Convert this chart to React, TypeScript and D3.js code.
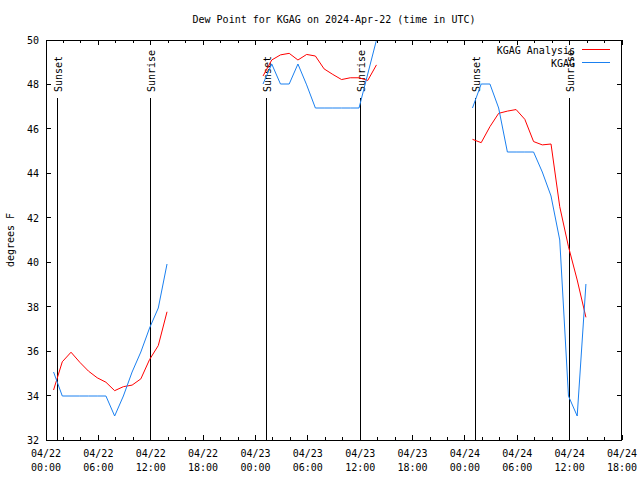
import React from "react";
import * as d3 from "d3";

const title = "Dew Point for KGAG on 2024-Apr-22 (time in UTC)";
const yLabel = "degrees F";
const xDomain = ["2024-04-22T00:00Z", "2024-04-24T18:00Z"];
const yDomain = [32, 50];
const yTicks = [32, 34, 36, 38, 40, 42, 44, 46, 48, 50];

const sunsetTimes = ["2024-04-22T01:17Z", "2024-04-23T01:12Z", "2024-04-24T01:10Z"];
const sunriseTimes = ["2024-04-22T11:57Z", "2024-04-23T11:56Z", "2024-04-24T11:54Z"];

// three observation windows (hourly)
const times1 = [
  "2024-04-22T00:52Z", "2024-04-22T01:52Z", "2024-04-22T02:52Z", "2024-04-22T03:52Z",
  "2024-04-22T04:52Z", "2024-04-22T05:52Z", "2024-04-22T06:52Z", "2024-04-22T07:52Z",
  "2024-04-22T08:52Z", "2024-04-22T09:52Z", "2024-04-22T10:52Z", "2024-04-22T11:52Z",
  "2024-04-22T12:52Z", "2024-04-22T13:52Z",
];
const times2 = [
  "2024-04-23T00:52Z", "2024-04-23T01:52Z", "2024-04-23T02:52Z", "2024-04-23T03:52Z",
  "2024-04-23T04:52Z", "2024-04-23T05:52Z", "2024-04-23T06:52Z", "2024-04-23T07:52Z",
  "2024-04-23T08:52Z", "2024-04-23T09:52Z", "2024-04-23T10:52Z", "2024-04-23T11:52Z",
  "2024-04-23T12:52Z", "2024-04-23T13:52Z",
];
const times3 = [
  "2024-04-24T00:52Z", "2024-04-24T01:52Z", "2024-04-24T02:52Z", "2024-04-24T03:52Z",
  "2024-04-24T04:52Z", "2024-04-24T05:52Z", "2024-04-24T06:52Z", "2024-04-24T07:52Z",
  "2024-04-24T08:52Z", "2024-04-24T09:52Z", "2024-04-24T10:52Z", "2024-04-24T11:52Z",
  "2024-04-24T12:52Z", "2024-04-24T13:52Z",
];

const analysis1 = [34.25, 35.52, 35.95, 35.5, 35.1, 34.8, 34.6, 34.22, 34.4, 34.47, 34.75, 35.62, 36.25, 37.77];
const analysis2 = [48.38, 49.1, 49.33, 49.4, 49.1, 49.35, 49.28, 48.7, 48.45, 48.22, 48.3, 48.3, 48.18, 48.88];
const analysis3 = [45.53, 45.38, 46.1, 46.7, 46.8, 46.87, 46.43, 45.43, 45.28, 45.32, 42.5, 40.7, 39.2, 37.52];

const obs1 = [35.06, 33.98, 33.98, 33.98, 33.98, 33.98, 33.98, 33.08, 33.98, 35.06, 35.96, 37.04, 37.94, 39.92];
const obs2 = [48.02, 48.92, 48.02, 48.02, 48.92, 47.98, 46.94, 46.94, 46.94, 46.94, 46.94, 46.94, 48.47, 50.0];
const obs3 = [46.94, 48.02, 48.02, 46.94, 44.96, 44.96, 44.96, 44.96, 44.06, 42.98, 41.0, 33.98, 33.08, 39.02];

const seriesNames = ["KGAG Analysis", "KGAG"];
const seriesColors = ["#ff0000", "#1a80f0"];

const FONT = "'DejaVu Sans Mono', monospace";

export default function App() {
  const left = 46, right = 622, top = 40, bottom = 440;
  const x = d3.scaleUtc().domain(xDomain.map((d) => new Date(d))).range([left, right]);
  const y = d3.scaleLinear().domain(yDomain).range([bottom, top]);

  const majorTicks = d3.utcHour.every(6)!.range(new Date(xDomain[0]), new Date(new Date(xDomain[1]).getTime() + 1));
  const minorTicks = d3.utcHour.every(2)!.range(new Date(xDomain[0]), new Date(new Date(xDomain[1]).getTime() + 1));
  const fmtDate = d3.utcFormat("%m/%d");
  const fmtTime = d3.utcFormat("%H:%M");

  const line = d3
    .line<[string, number]>()
    .x((d) => x(new Date(d[0])))
    .y((d) => y(d[1]));

  const analysisSegs = [
    d3.zip(times1, analysis1),
    d3.zip(times2, analysis2),
    d3.zip(times3, analysis3),
  ] as [string, number][][];
  const obsSegs = [d3.zip(times1, obs1), d3.zip(times2, obs2), d3.zip(times3, obs3)] as [string, number][][];

  const sunLines = [
    ...sunsetTimes.map((t) => ({ t, label: "Sunset" })),
    ...sunriseTimes.map((t) => ({ t, label: "Sunrise" })),
  ];

  return (
    <svg width={640} height={480} style={{ display: "block", position: "absolute", left: 0, top: 0, background: "#fff" }}>
      <defs>
        <clipPath id="plotclip">
          <rect x={left} y={top} width={right - left} height={bottom - top} />
        </clipPath>
      </defs>
      <rect x={0} y={0} width={640} height={480} fill="#fff" />
      <text x={(left + right) / 2} y={23} textAnchor="middle" fontFamily={FONT} fontSize={10} fill="#000">
        {title}
      </text>
      <text transform={`translate(14,${(top + bottom) / 2}) rotate(-90)`} textAnchor="middle" fontFamily={FONT} fontSize={10} fill="#000">
        {yLabel}
      </text>

      {/* y ticks */}
      {yTicks.map((v) => (
        <g key={"y" + v}>
          <line x1={left} x2={left + 5} y1={y(v)} y2={y(v)} stroke="#000" shapeRendering="crispEdges" />
          <line x1={right - 5} x2={right} y1={y(v)} y2={y(v)} stroke="#000" shapeRendering="crispEdges" />
          <text x={39} y={y(v) + 4} textAnchor="end" fontFamily={FONT} fontSize={10} fill="#000">
            {v}
          </text>
        </g>
      ))}

      {/* x ticks */}
      {minorTicks.map((t, i) => (
        <g key={"mx" + i}>
          <line x1={x(t)} x2={x(t)} y1={bottom} y2={bottom - 3} stroke="#000" shapeRendering="crispEdges" />
          <line x1={x(t)} x2={x(t)} y1={top} y2={top + 3} stroke="#000" shapeRendering="crispEdges" />
        </g>
      ))}
      {majorTicks.map((t, i) => (
        <g key={"x" + i}>
          <line x1={x(t)} x2={x(t)} y1={bottom} y2={bottom - 5} stroke="#000" shapeRendering="crispEdges" />
          <line x1={x(t)} x2={x(t)} y1={top} y2={top + 5} stroke="#000" shapeRendering="crispEdges" />
          <text x={x(t)} y={457} textAnchor="middle" fontFamily={FONT} fontSize={10} fill="#000">
            {fmtDate(t)}
          </text>
          <text x={x(t)} y={471} textAnchor="middle" fontFamily={FONT} fontSize={10} fill="#000">
            {fmtTime(t)}
          </text>
        </g>
      ))}

      {/* sunrise / sunset markers */}
      {sunLines.map((s, i) => {
        const xx = Math.round(x(new Date(s.t))) + 0.5;
        return (
          <g key={"s" + i}>
            <line x1={xx} x2={xx} y1={98} y2={bottom} stroke="#000" strokeWidth={1} />
            <text transform={`translate(${xx + 4},92) rotate(-90)`} textAnchor="start" fontFamily={FONT} fontSize={10} fill="#000">
              {s.label}
            </text>
          </g>
        );
      })}

      {/* data */}
      <g clipPath="url(#plotclip)">
        {analysisSegs.map((seg, i) => (
          <path key={"a" + i} d={line(seg) || ""} fill="none" stroke={seriesColors[0]} strokeWidth={1} />
        ))}
        {obsSegs.map((seg, i) => (
          <path key={"o" + i} d={line(seg) || ""} fill="none" stroke={seriesColors[1]} strokeWidth={1} />
        ))}
      </g>

      {/* legend */}
      {seriesNames.map((n, i) => (
        <g key={"l" + i}>
          <text x={575} y={53.5 + i * 13} textAnchor="end" fontFamily={FONT} fontSize={10} fill="#000">
            {n}
          </text>
          <line x1={582} x2={610} y1={49.5 + i * 13} y2={49.5 + i * 13} stroke={seriesColors[i]} strokeWidth={1} />
        </g>
      ))}

      {/* border */}
      <rect x={left + 0.5} y={top + 0.5} width={right - left - 1} height={bottom - top} fill="none" stroke="#000" strokeWidth={1} />
    </svg>
  );
}
